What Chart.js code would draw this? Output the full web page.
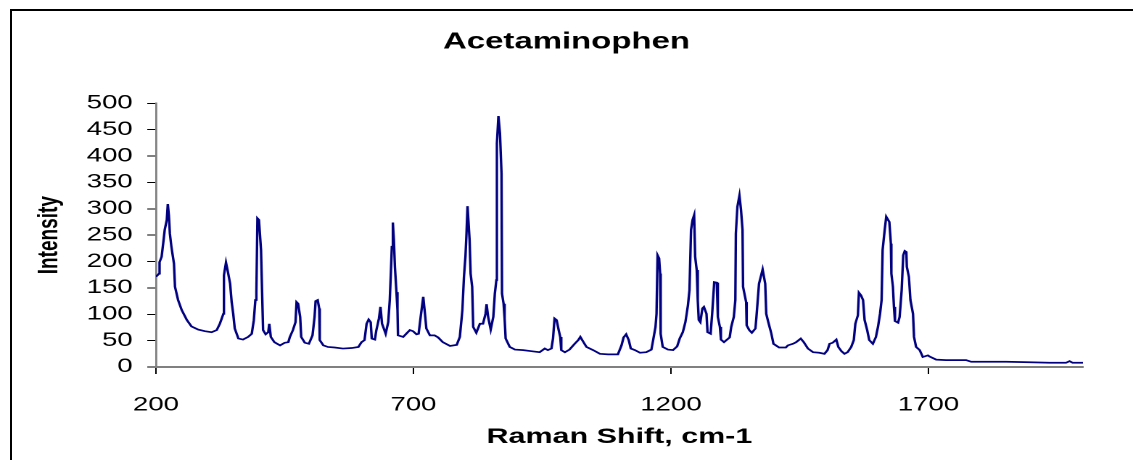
<!DOCTYPE html>
<html>
<head>
<meta charset="utf-8">
<title>Acetaminophen</title>
<script src="https://cdn.jsdelivr.net/npm/chart.js@4.4.1/dist/chart.umd.min.js"></script>
<style>
  html, body { margin: 0; padding: 0; overflow: hidden; background: #fff; }
  /* outer chart frame, cut off at the right and bottom like the source */
  #frame { position: absolute; left: 10px; top: 9px; width: 1300px; height: 600px; border: 2px solid #000; }
  /* the source picture is stretched sideways, so draw narrow and stretch */
  #wrap { position: absolute; left: 0; top: 0; width: 781px; height: 460px; transform: scaleX(1.4507); transform-origin: 0 0; }
</style>
</head>
<body>
<div id="frame"></div>
<div id="wrap"><canvas id="chart"></canvas></div>
<script>
// Raman shift (cm-1) and intensity
const shift = [
  200, 206, 207, 211, 214, 217, 221, 223, 225, 227, 230, 235, 237, 243, 250, 260, 269, 282, 295, 308,
  318, 324, 331, 332, 336, 339, 344, 347, 350, 353, 360, 369, 379, 386, 390, 393, 395, 397, 400, 404,
  406, 408, 413, 418, 420, 423, 430, 441, 450, 457, 460, 466, 471, 473, 476, 480, 482, 489, 497, 504,
  508, 510, 514, 517, 518, 525, 534, 547, 563, 580, 593, 599, 605, 609, 613, 617, 619, 625, 628, 633,
  636, 639, 642, 646, 651, 654, 656, 658, 660, 662, 664, 667, 669, 670, 680, 686, 693, 699, 706, 710,
  714, 719, 722, 725, 732, 741, 748, 757, 771, 784, 790, 795, 798, 801, 803, 805, 809, 811, 814, 816,
  822, 829, 835, 840, 842, 845, 850, 855, 858, 861, 862, 865, 868, 871, 872, 875, 877, 879, 887, 897,
  913, 929, 945, 955, 961, 968, 971, 974, 978, 982, 985, 987, 994, 1003, 1013, 1020, 1024, 1029, 1036, 1049,
  1062, 1078, 1097, 1104, 1108, 1113, 1118, 1122, 1130, 1140, 1152, 1162, 1166, 1170, 1172, 1174, 1177, 1179, 1180, 1184,
  1194, 1204, 1212, 1217, 1223, 1228, 1233, 1236, 1239, 1242, 1245, 1247, 1250, 1252, 1254, 1257, 1261, 1264, 1269, 1271,
  1277, 1280, 1284, 1289, 1291, 1295, 1297, 1303, 1314, 1317, 1322, 1325, 1326, 1329, 1333, 1336, 1339, 1340, 1346, 1347,
  1352, 1357, 1364, 1366, 1371, 1378, 1383, 1385, 1389, 1395, 1399, 1410, 1423, 1427, 1437, 1443, 1452, 1458, 1466, 1476,
  1488, 1498, 1504, 1508, 1514, 1521, 1525, 1531, 1537, 1543, 1550, 1555, 1558, 1563, 1565, 1569, 1573, 1576, 1581, 1585,
  1592, 1598, 1602, 1606, 1609, 1611, 1615, 1618, 1624, 1627, 1628, 1631, 1633, 1635, 1641, 1644, 1648, 1651, 1654, 1657,
  1658, 1662, 1665, 1670, 1672, 1676, 1683, 1689, 1699, 1702, 1715, 1734, 1754, 1773, 1783, 1812, 1851, 1896, 1935, 1967,
  1974, 1980, 2000
];
const intensity = [
  171, 177, 199, 209, 234, 260, 279, 309, 288, 253, 228, 196, 152, 127, 108, 89, 77, 71, 68, 66,
  70, 82, 101, 174, 198, 184, 158, 123, 101, 73, 54, 52, 57, 63, 89, 127, 142, 282, 279, 222,
  146, 70, 62, 66, 82, 57, 47, 41, 46, 47, 57, 70, 85, 123, 120, 95, 57, 46, 44, 60,
  95, 125, 127, 111, 51, 41, 38, 37, 35, 36, 38, 47, 51, 82, 90, 85, 54, 52, 70, 92,
  114, 82, 74, 63, 85, 127, 177, 228, 274, 241, 190, 142, 108, 60, 57, 63, 70, 68, 62, 63,
  95, 133, 104, 73, 60, 60, 56, 47, 40, 42, 57, 108, 170, 210, 253, 305, 241, 177, 152, 76,
  65, 82, 82, 101, 119, 95, 71, 95, 139, 165, 424, 476, 443, 367, 139, 120, 92, 54, 38, 33,
  32, 30, 28, 35, 32, 35, 54, 92, 89, 70, 57, 32, 28, 33, 44, 51, 57, 49, 38, 32,
  25, 24, 24, 41, 56, 62, 51, 35, 32, 27, 28, 33, 54, 76, 101, 212, 206, 177, 63, 38,
  33, 32, 39, 54, 66, 85, 117, 146, 260, 279, 288, 209, 184, 127, 89, 85, 111, 114, 101, 66,
  63, 101, 161, 160, 95, 76, 52, 47, 56, 76, 95, 127, 253, 304, 325, 298, 260, 152, 123, 79,
  70, 65, 73, 95, 158, 185, 158, 101, 85, 63, 44, 37, 37, 41, 44, 47, 54, 47, 35, 28,
  27, 25, 32, 44, 46, 52, 38, 30, 25, 28, 38, 51, 82, 98, 141, 136, 127, 89, 70, 51,
  44, 57, 76, 101, 127, 222, 260, 285, 275, 234, 177, 152, 114, 87, 84, 95, 146, 212, 220, 218,
  190, 171, 127, 101, 57, 38, 32, 19, 22, 20, 14, 13, 13, 13, 10, 10, 10, 9, 8, 8,
  11, 8, 8
];
const xTicks = [200, 700, 1200, 1700];
const yMin = 0, yMax = 500, yStep = 50;

const points = shift.map((x, i) => ({ x: x, y: intensity[i] }));

Chart.defaults.font.family = "'Liberation Sans', Arial, sans-serif";
Chart.defaults.color = "#000";

const config = {
    type: "scatter",
    data: {
        datasets: [{
            label: "Acetaminophen",
            data: points,
            showLine: true,
            borderColor: "#000080",
            borderWidth: 1.7,
            pointRadius: 0,
            tension: 0
        }]
    },
    options: {
        responsive: true,
        maintainAspectRatio: false,
        animation: false,
        devicePixelRatio: 2,
        layout: { padding: 0 },
        plugins: {
            legend: { display: false },
            tooltip: { enabled: false },
            title: {
                display: true,
                text: "Acetaminophen",
                color: "#000",
                font: { size: 22.7, weight: "bold" },
                padding: { top: 28.5, bottom: 47.6 }
            }
        },
        scales: {
            x: {
                type: "linear",
                min: 200,
                max: 2000,
                afterBuildTicks: (axis) => { axis.ticks = xTicks.map(v => ({ value: v })); },
                afterFit: (axis) => { axis.height = 93; },
                grid: { drawOnChartArea: false, color: "#000", tickLength: 7, lineWidth: 1 },
                border: { color: "#808080", width: 2 },
                ticks: {
                    font: { size: 19 }, color: "#000", padding: 20, maxRotation: 0, autoSkip: false,
                    callback: (v) => String(v)
                },
                title: {
                    display: true,
                    text: "Raman Shift, cm-1",
                    color: "#000",
                    font: { size: 21, weight: "bold" },
                    padding: { top: 0, bottom: 10 }
                }
            },
            y: {
                min: yMin,
                max: yMax,
                afterFit: (axis) => { axis.width = 107.5; },
                grid: { drawOnChartArea: false, color: "#000", tickLength: 6, lineWidth: 1 },
                border: { color: "#808080", width: 1.4 },
                ticks: { stepSize: yStep, font: { size: 19 }, color: "#000", padding: 10 },
                title: {
                    display: true,
                    text: "Intensity",
                    color: "#000",
                    font: { size: 19, weight: "bold" },
                    padding: { top: 23, bottom: 0 }
                }
            },
            // empty strip on the right, keeps the title centred on the whole frame
            right: {
                position: "right",
                display: true,
                grid: { display: false },
                border: { display: false },
                ticks: { display: false },
                afterFit: (axis) => { axis.width = 34.5; }
            }
        }
    }
};

const chart = new Chart(document.getElementById("chart"), config);
</script>
</body>
</html>
